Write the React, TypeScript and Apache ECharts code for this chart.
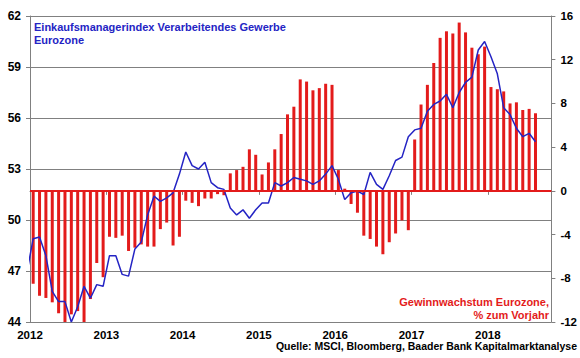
import React, { useEffect, useRef } from "react";
import * as echarts from "echarts";

// Monthly earnings growth Eurozone, % y/y (Jan 2012 .. Aug 2018)
const earnings2012 = [-8.5, -9.6, -9.8, -10.2, -11.2, -12.6, -11.3, -11.0, -12.4, -9.9, -6.6, -7.9];
const earnings2013 = [-4.2, -4.3, -4.1, -5.5, -5.2, -4.9, -5.1, -5.1, -3.5, -2.9, -5.0, -4.2];
const earnings2014 = [-0.9, -1.1, -1.4, -0.7, -0.7, -0.3, -0.4, 1.6, 1.9, 2.2, 3.8, 3.3];
const earnings2015 = [1.5, 2.6, 3.8, 5.2, 7.0, 7.7, 10.2, 10.0, 9.2, 9.4, 9.8, 9.7];
const earnings2016 = [1.9, 0.2, -1.2, -2.0, -4.1, -4.4, -5.1, -5.8, -4.7, -3.9, -2.7, -3.6];
const earnings2017 = [4.7, 7.9, 9.7, 11.7, 14.0, 14.6, 14.4, 15.4, 14.5, 13.1, 12.5, 13.2];
const earnings2018 = [9.5, 9.3, 9.1, 8.0, 8.1, 7.4, 7.5, 7.1];

// PMI manufacturing Eurozone (Dec 2011 .. Aug 2018)
const pmiDec2011 = [46.9];
const pmi2012 = [48.9, 49.0, 47.9, 45.8, 45.2, 45.2, 44.0, 44.9, 46.1, 45.4, 46.2, 46.1];
const pmi2013 = [47.9, 47.9, 46.8, 46.7, 48.3, 48.7, 50.3, 51.4, 51.1, 51.3, 51.6, 52.7];
const pmi2014 = [54.0, 53.2, 53.0, 53.4, 52.2, 51.9, 51.8, 50.7, 50.3, 50.6, 50.1, 50.6];
const pmi2015 = [51.0, 51.0, 52.2, 52.0, 52.2, 52.5, 52.4, 52.3, 52.1, 52.3, 52.7, 53.2];
const pmi2016 = [52.4, 51.2, 51.6, 51.7, 51.5, 52.8, 52.1, 51.8, 52.6, 53.5, 53.7, 54.9];
const pmi2017 = [55.3, 55.4, 56.4, 56.8, 57.0, 57.4, 56.6, 57.5, 58.1, 58.4, 60.0, 60.5];
const pmi2018 = [59.6, 58.6, 56.6, 56.2, 55.4, 54.9, 55.1, 54.6];

const firstYear = 2012;
const yearTicks = [0, 12, 24, 36, 48, 60, 72];
const monthsShown = 82;

const titleText = "Einkaufsmanagerindex Verarbeitendes Gewerbe\nEurozone";
const barLabelText = "Gewinnwachstum Eurozone,\n% zum Vorjahr";
const sourceText = "Quelle: MSCI, Bloomberg, Baader Bank Kapitalmarktanalyse";

const FONT = "'Liberation Sans', Arial, sans-serif";
const BLUE = "#2424c4";
const RED = "#e31b1b";
const GRID = "#808080";

export default function App() {
  const ref = useRef<HTMLDivElement>(null);

  useEffect(() => {
    if (!ref.current) return;
    const chart = echarts.init(ref.current, undefined, { renderer: "svg" });

    const earnings = [
      ...earnings2012, ...earnings2013, ...earnings2014, ...earnings2015,
      ...earnings2016, ...earnings2017, ...earnings2018,
    ];
    const pmi = [
      ...pmiDec2011, ...pmi2012, ...pmi2013, ...pmi2014, ...pmi2015,
      ...pmi2016, ...pmi2017, ...pmi2018,
    ];
    const barData = earnings.map((v, i) => [i + 0.5, v]);
    const lineData = pmi.map((v, i) => [i - 0.5, v]);

    const axisLabelStyle = {
      color: "#000",
      fontWeight: "bold" as const,
      fontFamily: FONT,
    };

    chart.setOption({
      animation: false,
      grid: { left: 30, right: 28, top: 16, bottom: 36, containLabel: false },
      xAxis: {
        type: "value",
        min: 0,
        max: monthsShown,
        interval: 12,
        axisLine: { show: true, lineStyle: { color: GRID, width: 1 } },
        axisTick: {
          show: true,
          length: 4,
          customValues: yearTicks,
          lineStyle: { color: GRID },
        },
        axisLabel: {
          ...axisLabelStyle,
          fontSize: 11.5,
          lineHeight: 11,
          margin: 7,
          customValues: yearTicks,
          formatter: (v: number) => (v % 12 === 0 ? String(firstYear + v / 12) : ""),
        },
        splitLine: { show: false },
      },
      yAxis: [
        {
          type: "value",
          position: "left",
          min: 44,
          max: 62,
          interval: 3,
          axisLine: { show: true, lineStyle: { color: GRID } },
          axisTick: { show: true, length: 4, lineStyle: { color: GRID } },
          axisLabel: { ...axisLabelStyle, fontSize: 12, margin: 9 },
          splitLine: { show: true, lineStyle: { color: GRID, width: 1 } },
        },
        {
          type: "value",
          position: "right",
          min: -12,
          max: 16,
          interval: 4,
          axisLine: { show: true, lineStyle: { color: GRID } },
          axisTick: { show: true, length: 4, lineStyle: { color: GRID } },
          axisLabel: { ...axisLabelStyle, fontSize: 11.5, margin: 9 },
          splitLine: { show: false },
        },
      ],
      series: [
        {
          type: "bar",
          yAxisIndex: 1,
          data: barData,
          barWidth: 3,
          itemStyle: { color: RED },
          clip: true,
          z: 2,
          markLine: {
            silent: true,
            symbol: ["none", "none"],
            label: { show: false },
            lineStyle: { color: RED, width: 2, type: "solid" },
            data: [{ yAxis: 0 }],
          },
        },
        {
          type: "line",
          yAxisIndex: 0,
          data: lineData,
          showSymbol: false,
          symbol: "none",
          clip: true,
          lineStyle: { color: BLUE, width: 1.5 },
          z: 4,
        },
      ],
      graphic: [
        {
          type: "text",
          left: 34,
          top: 20,
          style: {
            text: titleText,
            font: `bold 11px ${FONT}`,
            fill: BLUE,
            lineHeight: 13,
          },
        },
        {
          type: "text",
          x: 549,
          y: 295,
          style: {
            text: barLabelText,
            font: `bold 11px ${FONT}`,
            fill: RED,
            align: "right",
            verticalAlign: "top",
            lineHeight: 13,
          },
        },
        {
          type: "text",
          x: 577,
          y: 346,
          style: {
            text: sourceText,
            font: `bold 10.5px ${FONT}`,
            fill: "#000",
            align: "right",
            verticalAlign: "middle",
            lineHeight: 11,
          },
        },
      ],
    });

    return () => chart.dispose();
  }, []);

  return (
    <div
      ref={ref}
      style={{ position: "fixed", left: 0, top: 0, width: 580, height: 358, background: "#fff" }}
    />
  );
}
